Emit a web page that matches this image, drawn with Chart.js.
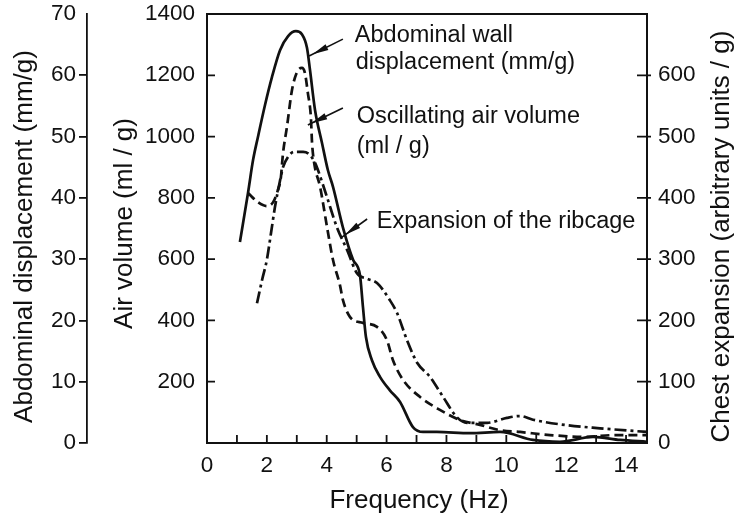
<!DOCTYPE html>
<html><head><meta charset="utf-8">
<script src="https://cdn.jsdelivr.net/npm/chart.js@4/dist/chart.umd.min.js"></script>
<style>html,body{margin:0;padding:0;background:#fff}#wrap{width:739px;height:518px}</style>
</head><body><div id="wrap"><canvas id="c" width="739" height="518"></canvas></div>
<script>
// ---- data ----
const freqAbd = [1.10,1.37,1.54,1.70,1.94,2.17,2.44,2.71,2.97,3.17,3.34,3.44,3.61,3.84,4.04,4.21,4.54,4.88,5.11,5.21,5.31,5.51,5.78,6.11,6.45,6.88,7.22,7.68,8.79,9.79,10.89,11.79,12.90,13.80,14.70];
const abdWall = [32.8,40.8,46.2,49.9,55.2,59.7,64.1,66.4,67.2,66.7,64.5,60.9,54.3,49.0,44.5,41.8,35.2,29.9,27.4,22.2,17.3,13.5,10.8,8.6,6.7,2.6,1.8,1.8,1.6,1.8,0.5,0.2,1.0,0.5,0.2];

const freqAir = [1.37,1.70,2.00,2.21,2.37,2.47,2.51,2.54,2.67,2.84,3.01,3.17,3.27,3.37,3.47,3.51,3.58,3.78,4.01,4.21,4.44,4.54,4.78,5.21,5.68,6.01,6.21,6.55,7.12,7.78,8.45,9.12,9.79,10.46,11.46,12.56,13.70,14.70];
const airVolume = [816,786,773,786,826,868,914,946,1031,1152,1211,1224,1208,1142,1064,979,914,835,705,597,516,467,411,392,379,336,271,206,150,108,75,59,42,36,26,20,26,26];

const freqRib = [1.67,1.84,2.00,2.14,2.27,2.41,2.54,2.71,2.91,3.21,3.44,3.61,3.71,4.01,4.34,4.68,5.01,5.35,5.68,6.11,6.35,6.68,7.02,7.45,7.89,8.35,8.69,9.36,10.02,10.46,10.89,12.03,13.13,14.70];
const ribcage = [228,266,299,343,385,421,450,467,475,475,470,457,445,401,352,315,277,268,261,233,212,168,131,108,75,42,33,33,41,44,38,29,24,18];

const xTickValues = [0,1,2,3,4,5,6,7,8,9,10,11,12,13,14];
const abdTickValues = [0,10,20,30,40,50,60,70];
const airTickValues = [200,400,600,800,1000,1200,1400];
const chestTickValues = [0,100,200,300,400,500,600];

const seriesNames = ['Abdominal wall displacement (mm/g)','Oscillating air volume (ml / g)','Expansion of the ribcage'];
const xTitle = 'Frequency (Hz)';
const abdTitle = 'Abdominal displacement (mm/g)';
const airTitle = 'Air volume (ml / g)';
const chestTitle = 'Chest expansion (arbitrary units / g)';

// annotations in data units (frequency, air volume)
const notes = [
  {text:'Abdominal wall', f:4.94, v:1331},
  {text:'displacement (mm/g)', f:4.97, v:1242},
  {text:'Oscillating air volume', f:5.0, v:1067},
  {text:'(ml / g)', f:5.0, v:969},
  {text:'Expansion of the ribcage', f:5.67, v:724}
];
const arrows = [
  {f1:4.54, v1:1318, f2:3.41, v2:1263},
  {f1:4.54, v1:1093, f2:3.37, v2:1038},
  {f1:5.35, v1:731, f2:4.51, v2:672}
];

const INK = '#111';
const FONT = '"Liberation Sans", Arial, Helvetica, sans-serif';
const pts = (xs, ys) => xs.map((x, i) => ({x, y: ys[i]}));
const fixTicks = vals => s => { s.ticks = vals.map(v => ({value: v})); };
const fitV = w => s => { s.width = w; s.paddingTop = 0; s.paddingBottom = 0; };

const framePlugin = {
  id: 'frame',
  afterDatasetsDraw(chart) {
    const {ctx, chartArea: a, scales} = chart;
    ctx.save();
    ctx.strokeStyle = INK; ctx.lineWidth = 2; ctx.setLineDash([]);
    ctx.strokeRect(a.left, a.top, a.right - a.left, a.bottom - a.top);
    ctx.lineWidth = 1.8;
    ctx.beginPath();
    scales.x.ticks.forEach(t => {
      const px = scales.x.getPixelForValue(t.value);
      if (px <= a.left + 1) return;
      ctx.moveTo(px, a.bottom); ctx.lineTo(px, a.bottom - 8);
    });
    scales.yAir.ticks.forEach(t => {
      if (t.value <= 0 || t.value >= 1400) return;
      const py = scales.yAir.getPixelForValue(t.value);
      ctx.moveTo(a.left, py); ctx.lineTo(a.left + 8, py);
    });
    scales.yChest.ticks.forEach(t => {
      if (t.value <= 0) return;
      const py = scales.yChest.getPixelForValue(t.value);
      ctx.moveTo(a.right - 10, py); ctx.lineTo(a.right + 4, py);
    });
    ctx.stroke();

    // annotations
    const sx = scales.x, sy = scales.yAir;
    ctx.fillStyle = INK;
    ctx.font = '23.5px ' + FONT;
    ctx.textAlign = 'left'; ctx.textBaseline = 'middle';
    notes.forEach(n => ctx.fillText(n.text, sx.getPixelForValue(n.f), sy.getPixelForValue(n.v)));
    arrows.forEach(ar => {
      const x1 = sx.getPixelForValue(ar.f1), y1 = sy.getPixelForValue(ar.v1);
      const x2 = sx.getPixelForValue(ar.f2), y2 = sy.getPixelForValue(ar.v2);
      const dx = x2 - x1, dy = y2 - y1, L = Math.hypot(dx, dy);
      const ux = dx / L, uy = dy / L, nx = -uy, ny = ux;
      ctx.lineWidth = 1.6;
      ctx.beginPath(); ctx.moveTo(x1, y1); ctx.lineTo(x2, y2); ctx.stroke();
      const ax = x2 - ux * 4, ay = y2 - uy * 4;
      const bx = x2 - ux * 20, by = y2 - uy * 20;
      ctx.beginPath();
      ctx.moveTo(ax, ay);
      ctx.lineTo(bx + nx * 3.2, by + ny * 3.2);
      ctx.lineTo(bx - nx * 3.2, by - ny * 3.2);
      ctx.closePath(); ctx.fill();
    });

    // axis titles
    ctx.font = '26px ' + FONT;
    ctx.textAlign = 'center'; ctx.textBaseline = 'middle';
    const midY = (a.top + a.bottom) / 2;
    const drawV = (txt, x, y) => { ctx.save(); ctx.translate(x, y); ctx.rotate(-Math.PI / 2); ctx.fillText(txt, 0, 0); ctx.restore(); };
    drawV(abdTitle, scales.yAbd.left + 25, midY + 8);
    drawV(airTitle, scales.yAir.left + 38, midY - 5);
    drawV(chestTitle, scales.yChest.right - 17, midY + 8);
    ctx.fillText(xTitle, (a.left + a.right) / 2 - 8, scales.x.bottom - 17);
    ctx.restore();
  }
};

const tickFont = {family: FONT, size: 22.5};

new Chart(document.getElementById('c'), {
  type: 'line',
  data: {
    datasets: [
      {label: seriesNames[0], data: pts(freqAbd, abdWall), yAxisID: 'yAbd', borderColor: INK, borderWidth: 2.7, cubicInterpolationMode: 'monotone'},
      {label: seriesNames[1], data: pts(freqAir, airVolume), yAxisID: 'yAir', borderColor: INK, borderWidth: 2.7, borderDash: [9, 5], cubicInterpolationMode: 'monotone'},
      {label: seriesNames[2], data: pts(freqRib, ribcage), yAxisID: 'yChest', borderColor: INK, borderWidth: 2.7, borderDash: [12, 4, 3, 4], cubicInterpolationMode: 'monotone'}
    ]
  },
  options: {
    responsive: false,
    devicePixelRatio: 1,
    animation: false,
    layout: {padding: {top: 14, left: 0, right: 0, bottom: 0}},
    elements: {point: {radius: 0, hoverRadius: 0}, line: {fill: false}},
    plugins: {legend: {display: false}, tooltip: {enabled: false}},
    scales: {
      x: {
        type: 'linear', position: 'bottom', min: 0, max: 14.7,
        afterBuildTicks: fixTicks(xTickValues),
        afterFit: s => { s.height = 75; s.paddingLeft = 0; s.paddingRight = 0; },
        ticks: {autoSkip: false, maxRotation: 0, padding: 9.5, color: INK, font: tickFont,
          callback: v => (v % 2 === 0 ? String(v) : '')},
        grid: {display: false, drawTicks: false},
        border: {display: false},
        title: {display: false}
      },
      yAbd: {
        type: 'linear', position: 'left', weight: 1, min: 0, max: 70,
        afterBuildTicks: fixTicks(abdTickValues),
        afterFit: fitV(87),
        ticks: {padding: 3, color: INK, font: tickFont, callback: v => String(v)},
        grid: {display: true, drawOnChartArea: false, drawTicks: true, tickLength: 8, lineWidth: 1.8,
          color: c => (c.tick && c.tick.value === 70 ? 'rgba(0,0,0,0)' : INK)},
        border: {display: true, color: INK, width: 1.8},
        title: {display: false}
      },
      yAir: {
        type: 'linear', position: 'left', weight: 0, min: 0, max: 1400,
        afterBuildTicks: fixTicks(airTickValues),
        afterFit: fitV(120),
        ticks: {padding: 12, color: INK, font: tickFont, callback: v => String(v)},
        grid: {display: false, drawTicks: false},
        border: {display: false},
        title: {display: false}
      },
      yChest: {
        type: 'linear', position: 'right', min: 0, max: 700,
        afterBuildTicks: fixTicks(chestTickValues),
        afterFit: fitV(92),
        ticks: {padding: 11, color: INK, font: tickFont, callback: v => String(v)},
        grid: {display: false, drawTicks: false},
        border: {display: false},
        title: {display: false}
      }
    }
  },
  plugins: [framePlugin]
});
</script>
</body></html>
